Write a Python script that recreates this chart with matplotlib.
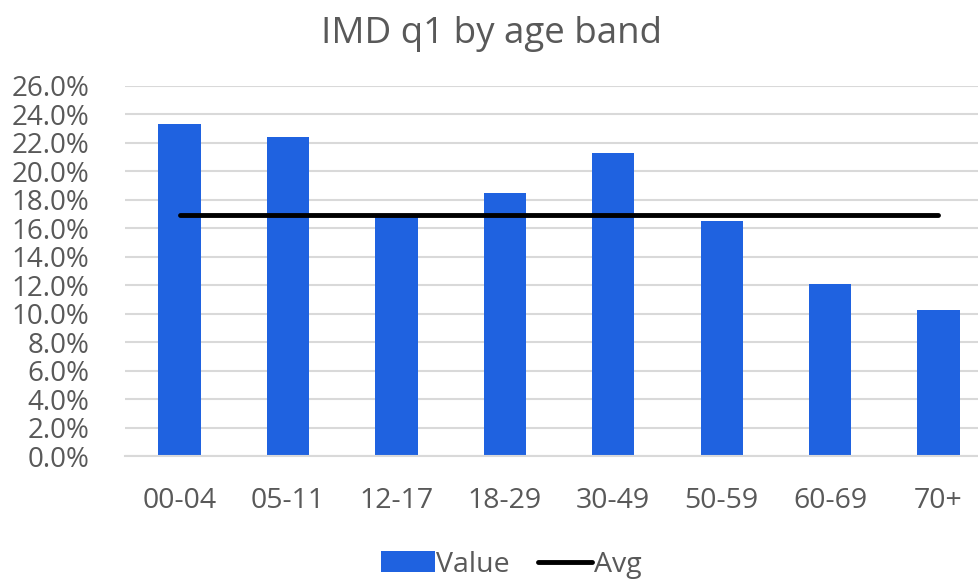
import matplotlib.pyplot as plt
from matplotlib.ticker import PercentFormatter, MultipleLocator

# IMD quintile 1 share per age band
age_bands = ['00-04', '05-11', '12-17', '18-29', '30-49', '50-59', '60-69', '70+']
values = [0.233, 0.224, 0.168, 0.1845, 0.2125, 0.165, 0.1205, 0.1025]
avg = [0.169] * len(age_bands)

plt.rcParams['font.family'] = ['Open Sans', 'DejaVu Sans']
grey = '#595959'

fig = plt.figure(figsize=(9.79, 5.81), dpi=100)
ax = fig.add_axes([0.128, 0.215, 0.886, 0.6375])

x = range(len(age_bands))
bars = ax.bar(x, values, width=0.39, color='#1f62e0', label='Value', zorder=2)
line, = ax.plot(x, avg, color='black', linewidth=3.5, solid_capstyle='round', label='Avg', zorder=3)

ax.set_xlim(-0.5, len(age_bands) - 0.5)
ax.set_ylim(0, 0.26)
ax.yaxis.set_major_locator(MultipleLocator(0.02))
ax.yaxis.set_major_formatter(PercentFormatter(1.0, decimals=1))
ax.set_xticks(list(x))
ax.set_xticklabels(age_bands)

ax.grid(axis='y', color='#d9d9d9', linewidth=1.5, zorder=0)
ax.set_axisbelow(True)
for side in ['top', 'right', 'left']:
    ax.spines[side].set_visible(False)
ax.spines['bottom'].set_color('#d9d9d9')
ax.spines['bottom'].set_linewidth(1.5)

ax.tick_params(axis='y', length=0, pad=26, labelsize=20, labelcolor=grey)
ax.tick_params(axis='x', length=0, pad=22, labelsize=20.5, labelcolor=grey)

fig.suptitle('IMD q1 by age band', x=0.502, y=0.972, fontsize=26.5, color=grey)

fig.legend(handles=[bars, line], labels=['Value', 'Avg'], loc='center',
           bbox_to_anchor=(0.522, 0.028), ncol=2, frameon=False,
           fontsize=20.5, labelcolor=grey, handlelength=1.9, handleheight=0.75,
           handletextpad=0.05, columnspacing=1.0)

fig.savefig('out.png', dpi=100)
